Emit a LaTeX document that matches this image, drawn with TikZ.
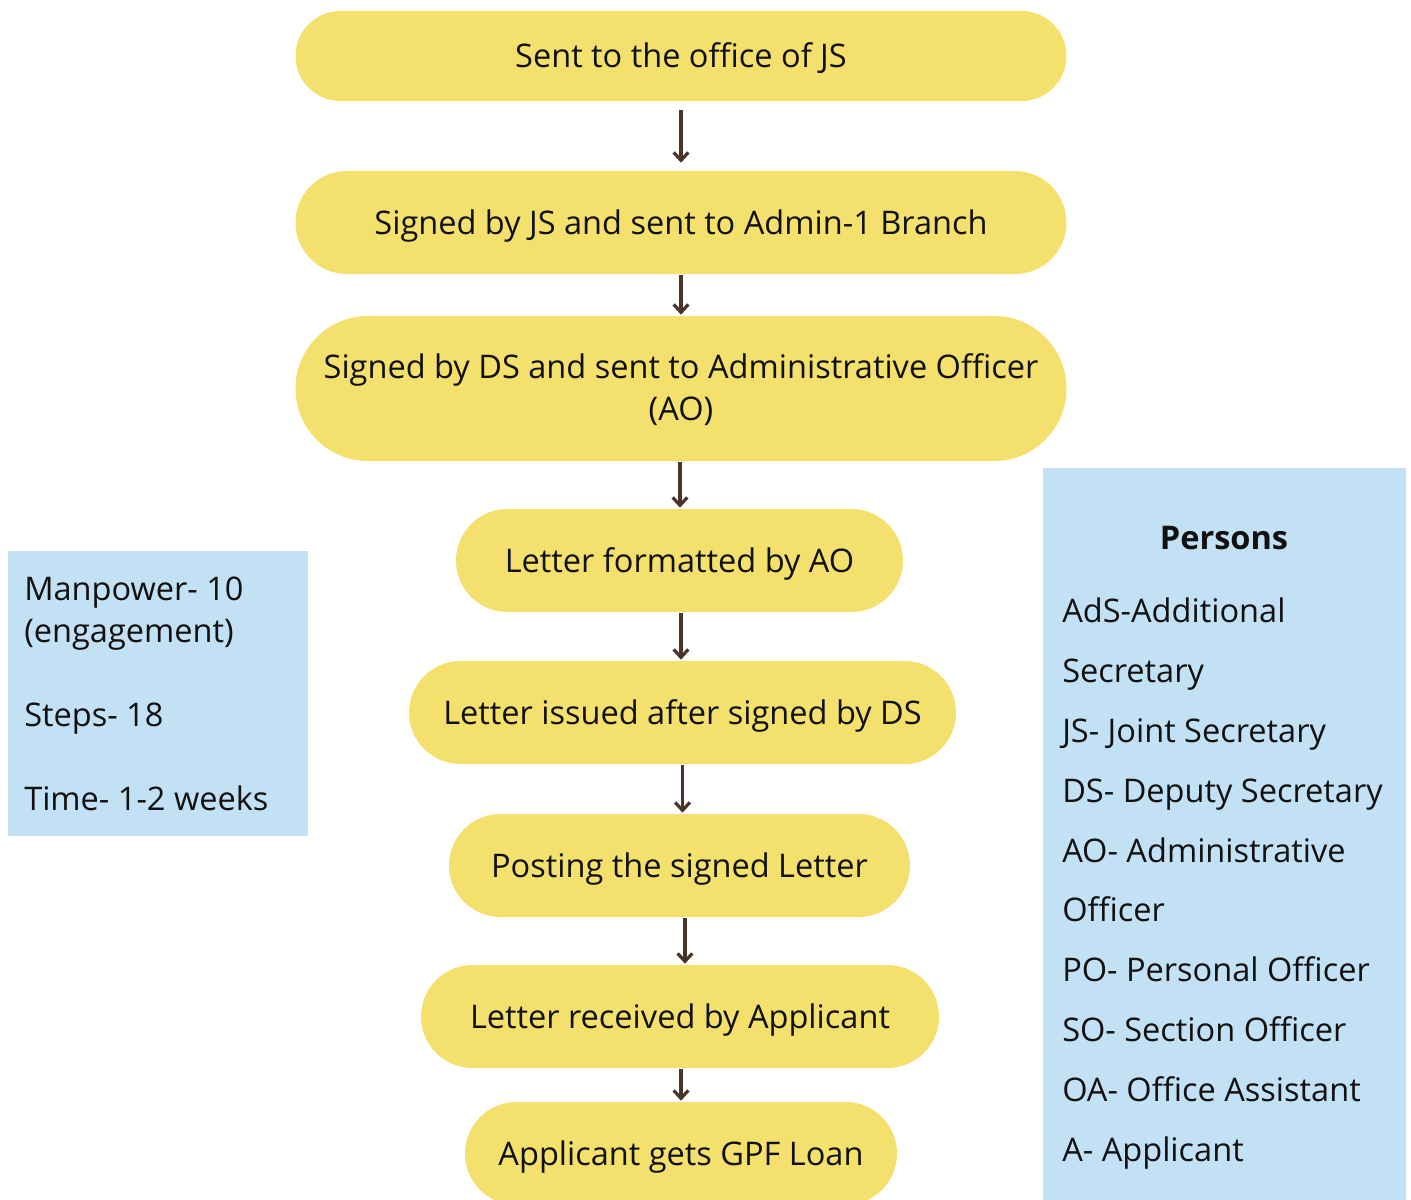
\documentclass[tikz,border=0pt]{standalone}
\usepackage{fontspec}
\setmainfont{Open Sans}
\usetikzlibrary{shapes.misc,arrows.meta}
\definecolor{pillyellow}{HTML}{F3E06D}
\definecolor{boxblue}{HTML}{C2E1F4}
\definecolor{arrowbrown}{HTML}{4A3628}
\definecolor{ink}{HTML}{111111}
\tikzset{
  pill/.style={rounded rectangle, fill=pillyellow, draw=none, inner sep=0pt,
    align=center, text=ink, font=\fontsize{24.4}{31.5}\selectfont,
    text height=17.25pt, text depth=0pt},
  flow/.style={draw=arrowbrown, line width=2.4pt,
    -{Straight Barb[length=6pt,width=11pt,line width=2.4pt]}, shorten <=0.75pt, shorten >=0.75pt},
  infobox/.style={fill=boxblue, draw=none},
  infotext/.style={text=ink, align=left, inner sep=0pt, font=\fontsize{24.4}{31.5}\selectfont},
}
\begin{document}
\begin{tikzpicture}[x=0.75pt,y=-0.75pt]
\useasboundingbox (0,0) rectangle (1411,1200);
% side boxes
\path[infobox] (8,551) rectangle (308,836);
\path[infobox] (1043,468) rectangle (1406,1200);
\node[infotext, anchor=north west] (stats) at (24,577) {Manpower- 10\\(engagement)\\[31.5pt]Steps- 18\\[31.5pt]Time- 1-2 weeks};
\node[infotext, font=\fontsize{24.4}{31.5}\selectfont\bfseries] (persons) at (1224,538) {Persons};
\node[infotext, anchor=north west, font=\fontsize{24.4}{45}\selectfont] (abbr) at (1062,597)
  {AdS-Additional\\Secretary\\JS- Joint Secretary\\DS- Deputy Secretary\\AO- Administrative\\Officer\\PO- Personal Officer\\SO- Section Officer\\OA- Office Assistant\\A- Applicant};
% flow nodes
\node[pill, minimum width=578.25pt, minimum height=67.5pt] (n1) at (681,56) {Sent to the office of JS};
\node[pill, minimum width=578.25pt, minimum height=77.25pt] (n2) at (681,222.5) {Signed by JS and sent to Admin-1 Branch};
\node[pill, minimum width=578.25pt, minimum height=108.75pt, text height=48pt] (n3) at (681,388.5) {Signed by DS and sent to Administrative Officer\\(AO)};
\node[pill, minimum width=335.25pt, minimum height=77.25pt] (n4) at (679.5,560.5) {Letter formatted by AO};
\node[pill, minimum width=410.25pt, minimum height=77.25pt] (n5) at (682.5,712.5) {Letter issued after signed by DS};
\node[pill, minimum width=345.75pt, minimum height=77.25pt] (n6) at (679.5,865.5) {Posting the signed Letter};
\node[pill, minimum width=388.5pt, minimum height=77.25pt] (n7) at (680,1016.5) {Letter received by Applicant};
\node[pill, minimum width=324pt, minimum height=77.25pt] (n8) at (681,1153.5) {Applicant gets GPF Loan};
% connectors
\draw[flow, shorten <=6.75pt, shorten >=6pt] (n1.south) -- (n1.south |- n2.north);
\draw[flow] (n2.south) -- (n2.south |- n3.north);
\draw[flow] ([xshift=-0.75pt]n3.south) -- ([xshift=-0.75pt]n3.south |- n4.north);
\draw[flow] ([xshift=1.1pt]n4.south) -- ([xshift=1.1pt]n4.south |- n5.north);
\draw[flow] (n5.south) -- (n5.south |- n6.north);
\draw[flow] ([xshift=4.1pt]n6.south) -- ([xshift=4.1pt]n6.south |- n7.north);
\draw[flow] ([xshift=0.75pt]n7.south) -- ([xshift=0.75pt]n7.south |- n8.north);
\end{tikzpicture}
\end{document}
